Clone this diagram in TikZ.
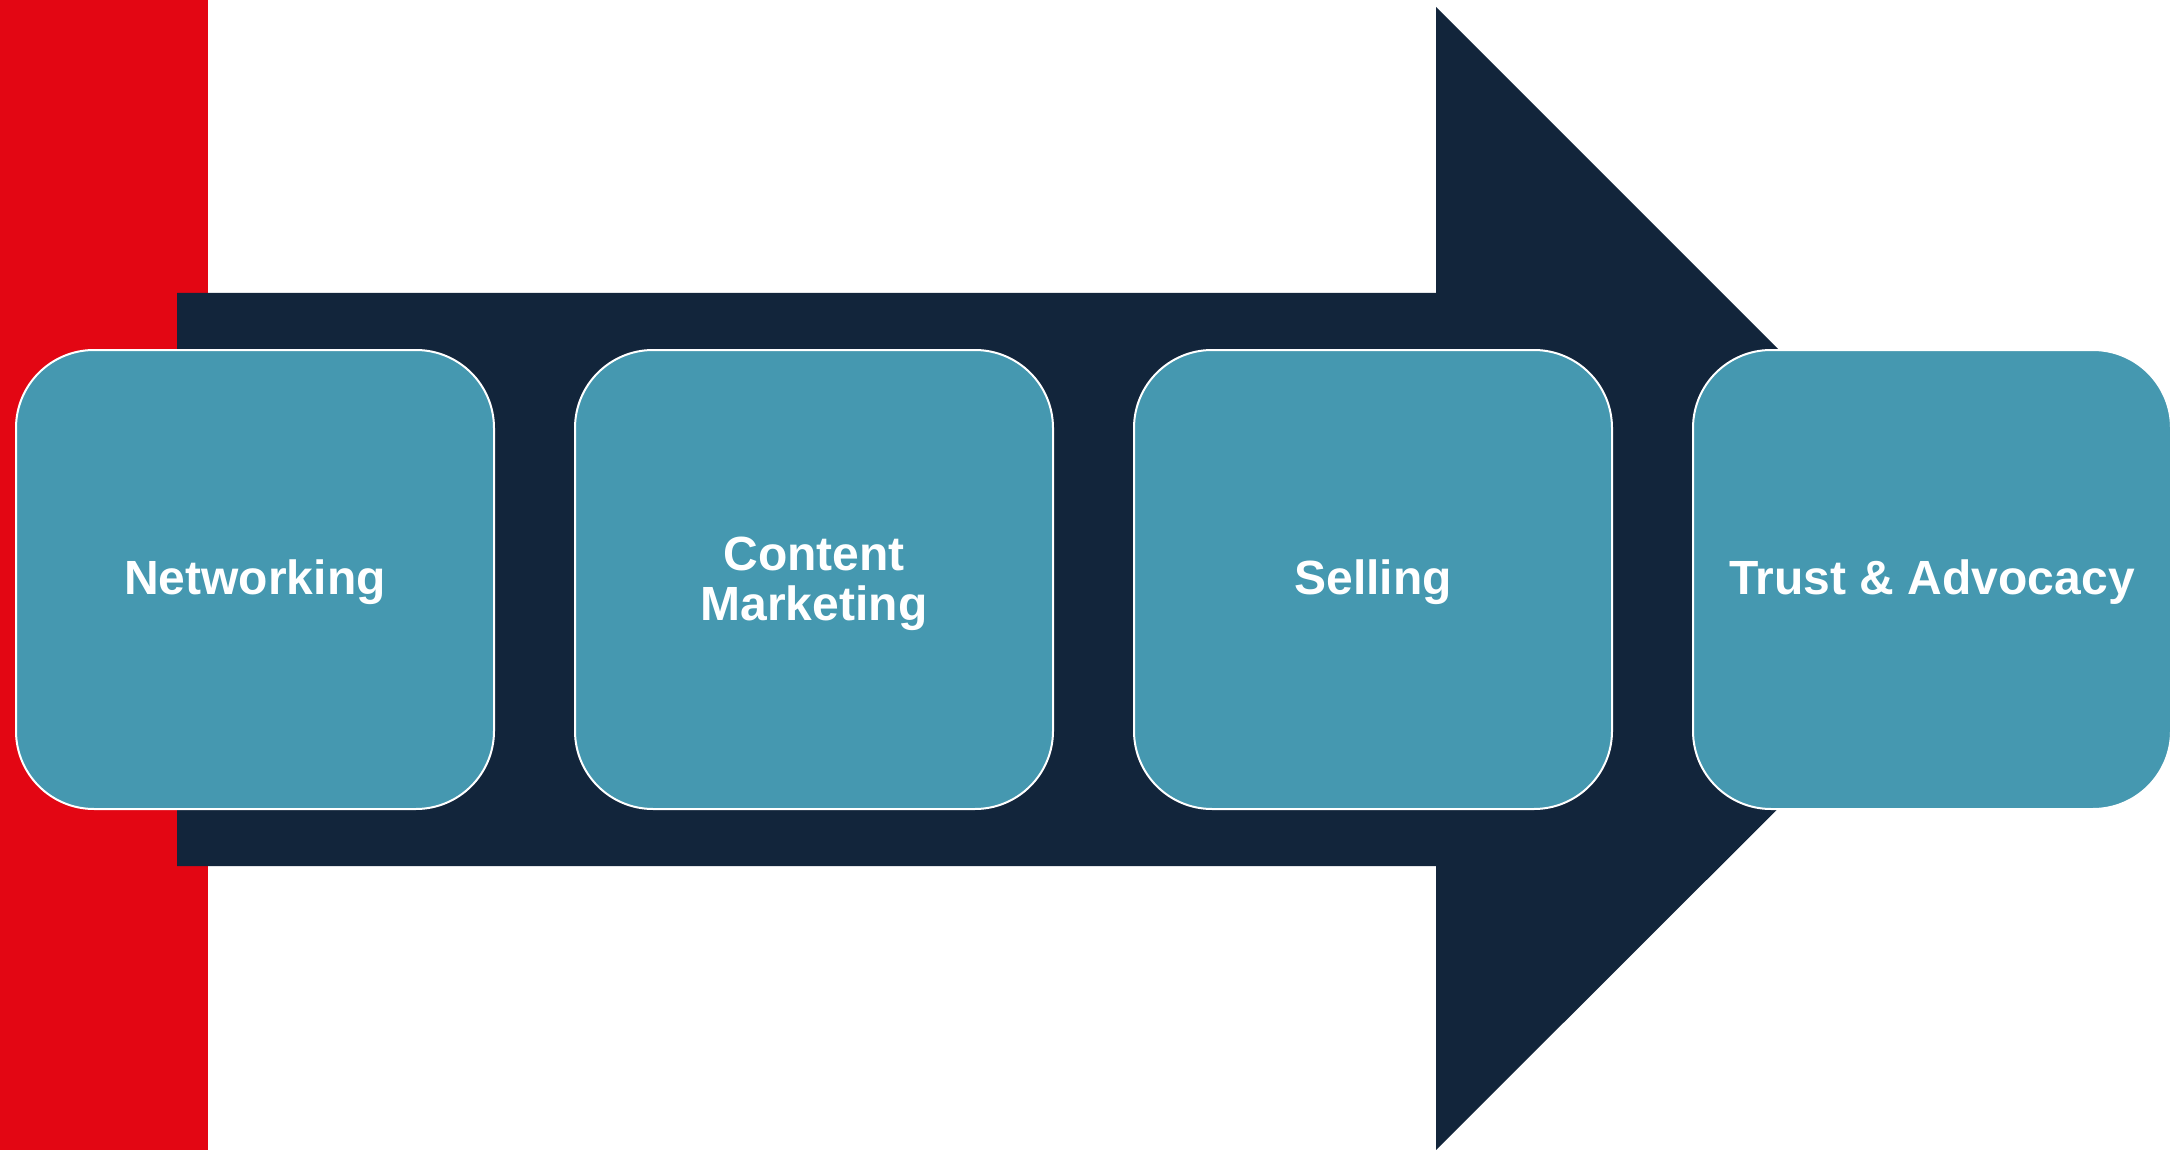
\documentclass[tikz,border=0pt]{standalone}
\usepackage{fontspec}
\setmainfont{Liberation Sans}
\definecolor{brandred}{HTML}{E30613}
\definecolor{navy}{HTML}{12253B}
\definecolor{teal}{HTML}{4598B0}
\tikzset{
  stagebox/.style={draw=white, line width=2pt, fill=teal, rounded corners=78pt,
    minimum width=478pt, minimum height=459pt, inner sep=0pt, anchor=north west},
  stagelabel/.style={text=white, font=\bfseries\fontsize{48}{50}\selectfont, align=center, inner sep=0pt},
}
\begin{document}
\begin{tikzpicture}[x=1pt,y=-1pt]
\useasboundingbox (0,0) rectangle (2174,1150);
\fill[white] (0,0) rectangle (2174,1150);
\fill[brandred] (0,0) rectangle (208,1150);
\fill[navy] (177,293) -- (1436,293) -- (1436,7) -- (2008,579) -- (1436,1150) -- (1436,866) -- (177,866) -- cycle;
\node[stagebox] (net) at (15,349) {};
\node[stagebox] (cm) at (574,349) {};
\node[stagebox] (sell) at (1133,349) {};
\node[stagebox] (trust) at (1692,349) {};
\node[stagelabel] (net-t) at ([yshift=-3pt]net.center) {Networking};
\node[stagelabel] (cm-t) at ([yshift=-4pt]cm.center) {Content\\Marketing};
\node[stagelabel] (sell-t) at ([yshift=-3pt]sell.center) {Selling};
\node[stagelabel] (trust-t) at ([yshift=-3pt]trust.center) {Trust \& Advocacy};
\end{tikzpicture}
\end{document}
